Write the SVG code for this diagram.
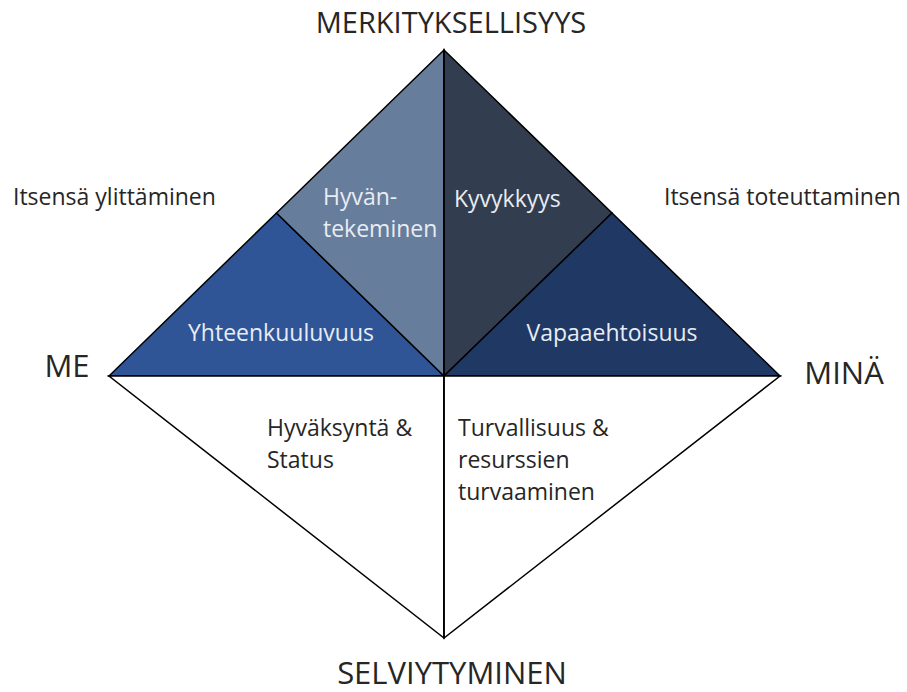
<svg xmlns="http://www.w3.org/2000/svg" width="907" height="692" viewBox="0 0 907 692">
<style>
.edge{stroke:#000;stroke-width:1.5;stroke-linejoin:miter}
.t{font-family:"Open Sans",Lato,sans-serif;fill:#262626}
.w{font-family:"Open Sans",Lato,sans-serif;fill:#E8ECF3;font-size:23px}
.big{font-size:31px}
.mid{font-size:23px}
</style>
<rect width="907" height="692" fill="#fff"/>
<g id="node-yhteenkuuluvuus">
<polygon class="edge" points="109,376 276.5,213 444,376" fill="#2F5597"/>
<text class="w" x="281" y="341" text-anchor="middle">Yhteenkuuluvuus</text>
</g>
<g id="node-hyvantekeminen">
<polygon class="edge" points="276.5,213 444,50 444,376" fill="#677D9C"/>
<text class="w" x="323" y="205">Hyvän-</text>
<text class="w" x="323" y="237">tekeminen</text>
</g>
<g id="node-kyvykkyys">
<polygon class="edge" points="444,50 612,213 444,376" fill="#323E50"/>
<text class="w" x="454" y="207">Kyvykkyys</text>
</g>
<g id="node-vapaaehtoisuus">
<polygon class="edge" points="612,213 780,376 444,376" fill="#203864"/>
<text class="w" x="612" y="341" text-anchor="middle">Vapaaehtoisuus</text>
</g>
<g id="node-hyvaksynta">
<polygon class="edge" points="109,376 444,376 444,638" fill="#fff"/>
<text class="t mid" x="267" y="436">Hyväksyntä &amp;</text>
<text class="t mid" x="267" y="468">Status</text>
</g>
<g id="node-turvallisuus">
<polygon class="edge" points="444,376 780,376 444,638" fill="#fff"/>
<text class="t mid" x="458" y="436">Turvallisuus &amp;</text>
<text class="t mid" x="458" y="468">resurssien</text>
<text class="t mid" x="458" y="500">turvaaminen</text>
</g>
<g id="connectors">
<line class="edge" x1="444" y1="50" x2="444" y2="638"/>
</g>
<g id="labels">
<text class="t" style="font-size:29px" x="451" y="33" text-anchor="middle">MERKITYKSELLISYYS</text>
<text class="t big" x="452" y="684" text-anchor="middle">SELVIYTYMINEN</text>
<text class="t big" x="67" y="377" text-anchor="middle">ME</text>
<text class="t big" x="844" y="384" text-anchor="middle">MINÄ</text>
<text class="t mid" x="13" y="205">Itsensä ylittäminen</text>
<text class="t mid" x="664" y="205">Itsensä toteuttaminen</text>
</g>
</svg>
